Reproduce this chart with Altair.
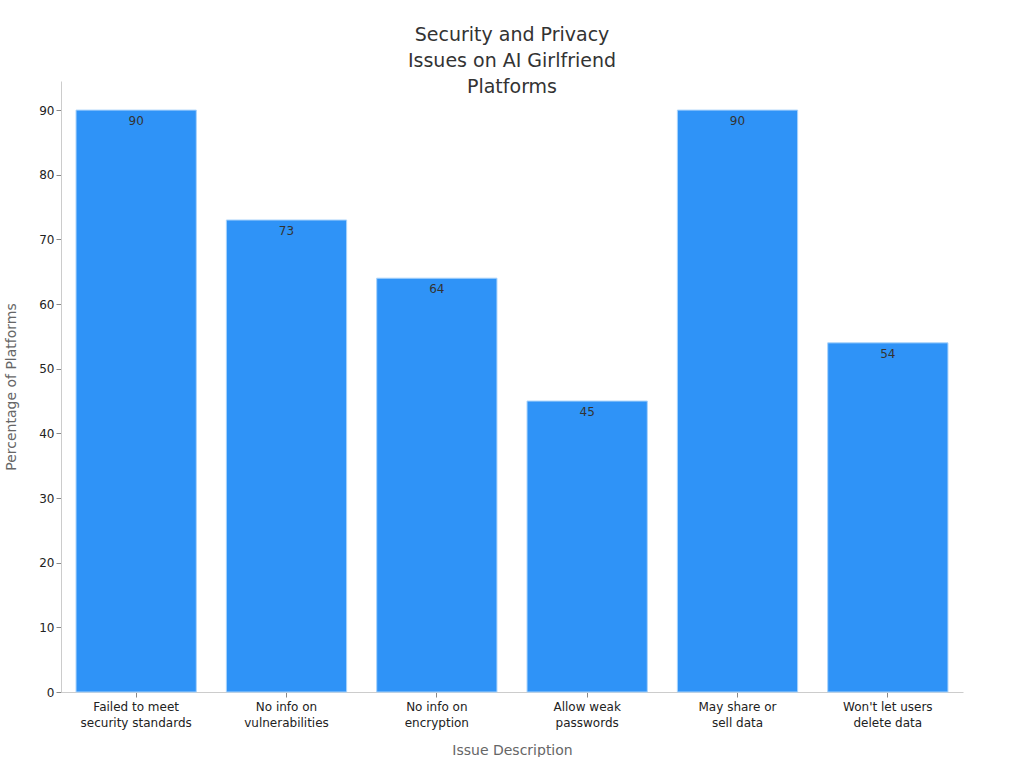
import altair as alt
import pandas as pd

# Share of AI girlfriend platforms affected by each issue
issues = [
    "Failed to meet security standards",
    "No info on vulnerabilities",
    "No info on encryption",
    "Allow weak passwords",
    "May share or sell data",
    "Won't let users delete data",
]
issue_lines = [
    ["Failed to meet", "security standards"],
    ["No info on", "vulnerabilities"],
    ["No info on", "encryption"],
    ["Allow weak", "passwords"],
    ["May share or", "sell data"],
    ["Won't let users", "delete data"],
]
percentages = [90, 73, 64, 45, 90, 54]

df = pd.DataFrame({"issue": issues, "pct": percentages})


def js_str(s):
    return '"' + s.replace('"', '\\"') + '"'


label_expr = "{" + ", ".join(
    js_str(k) + ": [" + ", ".join(js_str(s) for s in v) + "]"
    for k, v in zip(issues, issue_lines)
) + "}[datum.value]"

FONT = "DejaVu Sans"

x = alt.X(
    "issue:N",
    sort=issues,
    title="Issue Description",
    scale=alt.Scale(paddingInner=0.2, paddingOuter=0.1),
    axis=alt.Axis(
        labelAngle=0,
        labelExpr=label_expr,
        labelFontSize=12,
        labelLineHeight=16,
        labelColor="#222222",
        titleFontSize=14,
        titleColor="#666666",
        titleFontWeight="normal",
        titlePadding=15,
        domainColor="#cccccc",
        tickColor="#888888",
        labelPadding=4,
    ),
)
y = alt.Y(
    "pct:Q",
    title="Percentage of Platforms",
    scale=alt.Scale(domain=[0, 94.5], nice=False),
    axis=alt.Axis(
        values=list(range(0, 91, 10)),
        grid=False,
        labelFontSize=12,
        labelColor="#222222",
        titleFontSize=14,
        titleColor="#666666",
        titleFontWeight="normal",
        titlePadding=20,
        domainColor="#cccccc",
        tickColor="#888888",
    ),
)

bars = alt.Chart(df).mark_bar(
    color="#2f93f7", stroke="#a9d3fb", strokeWidth=1
).encode(x=x, y=y)

labels = alt.Chart(df).mark_text(
    baseline="middle", dy=11, fontSize=12, color="#333333", font=FONT
).encode(x=alt.X("issue:N", sort=issues), y=alt.Y("pct:Q"), text="pct:Q")

chart = (
    alt.layer(bars, labels)
    .properties(
        width=902,
        height=611,
        title=alt.TitleParams(
            ["Security and Privacy", "Issues on AI Girlfriend", "Platforms"],
            fontSize=19,
            fontWeight="normal",
            color="#333333",
            font=FONT,
            anchor="middle",
            offset=-16,
            lineHeight=26,
        ),
        padding={"left": 4, "top": 26, "right": 61, "bottom": 0},
    )
    .configure(font=FONT)
    .configure_view(stroke=None)
)

chart.save("out.html", embed_options={"renderer": "svg", "actions": False})
